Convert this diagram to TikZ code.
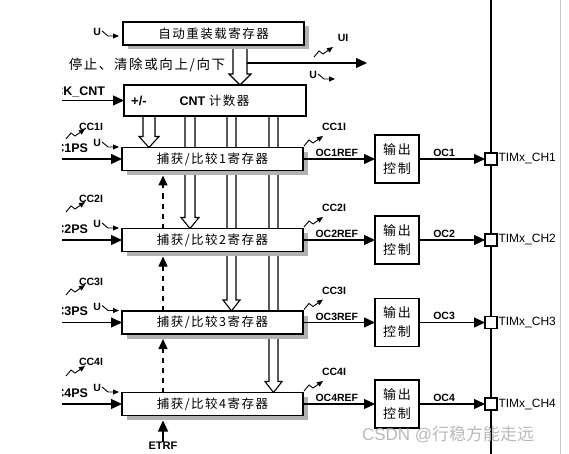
\documentclass[tikz,border=0pt]{standalone}
\usepackage{fontspec}
\setmainfont{Liberation Sans}
\newfontfamily\cjk[LetterSpace=12]{Noto Sans CJK SC}
\newfontfamily\cjkw{Noto Sans CJK SC}
\usetikzlibrary{arrows.meta}
\newcommand\hollowdn[4]{%
  \draw[line width=1.1pt,fill=white,line join=miter] (#1,#3) -- (#1,#4-11) -- (#1-4,#4-11) -- ({(#1+#2)/2},#4) -- (#2+4,#4-11) -- (#2,#4-11) -- (#2,#3);}
\begin{document}
\begin{tikzpicture}[x=1pt,y=-1pt,
  every node/.style={inner sep=0pt,outer sep=0pt},
  shadowc/.style={fill=gray!60},
  reg/.style={draw,line width=1.4pt,fill=white,minimum width=181pt,minimum height=23pt,font=\cjk\fontsize{12.5}{13}\selectfont},
  cntbox/.style={draw,line width=1.4pt,fill=white,minimum width=182pt,minimum height=31pt},
  outc/.style={draw,line width=1.4pt,fill=white,minimum width=44pt,minimum height=48pt,align=center,font=\cjk\fontsize{13}{19}\selectfont},
  pinbox/.style={draw,line width=1.1pt,fill=white,minimum size=12pt},
  lb/.style={font=\bfseries\fontsize{10.5}{11}\selectfont},
  lbig/.style={font=\bfseries\fontsize{12.5}{13}\selectfont},
  chlab/.style={font=\fontsize{12}{12}\selectfont,anchor=west},
  arr/.style={line width=1.2pt,-{Triangle[length=11pt,width=10pt]}},
  sarr/.style={line width=0.9pt,-{Triangle[length=6pt,width=5pt]}},
  darr/.style={line width=1.3pt,dash pattern=on 5pt off 5pt,-{Triangle[length=10pt,width=9pt]}},
  zz/.pic={\draw[sarr] (0,0) -- (5,-6) -- (9,-3) -- (19,-10);},
  uu/.pic={\node[lb,anchor=east] at (0,0) {U}; \draw[sarr] (1,-1) -- (7,4) -- (18,4);}
]
\useasboundingbox (0,0) rectangle (569,454);
% right border lines
\draw[gray!45,line width=0.8pt] (560,0) -- (560,454);
\coordinate (rtop) at (491,0);
\coordinate (rbot) at (491,454);
\draw[line width=2pt] (rtop) -- (rbot);

% buses (behind boxes)
\hollowdn{233}{247}{44}{85}
\hollowdn{143}{155}{112}{147.5}
\hollowdn{185}{195}{112}{228.5}
\hollowdn{227}{236}{112}{311}
\hollowdn{269}{278}{112}{392.5}

% reload register
\fill[shadowc] (127.5,26.5) rectangle (308.5,49.5);
\node[reg] (reload) at (213.5,33.5) {自动重装载寄存器};
\pic at (101,32) {uu};
\node[font=\cjk\fontsize{13.5}{14}\selectfont] at (147,65) {停止、清除或向上/向下};
\coordinate (tapA) at (247,63);
\coordinate (ctlend) at (367,63);
\draw[arr] (tapA) -- (ctlend);
\pic at (314,57) {zz};
\node[lb] at (343,38) {UI};
\pic at (317,75) {uu};

% counter
\node[cntbox] (cnt) at (215,100.5) {};
\node[font=\bfseries\fontsize{13}{13}\selectfont] at (139,101) {+/-};
\node at (214.5,100.5) {\bfseries\fontsize{12.5}{13}\selectfont CNT \cjk\mdseries 计数器};
\coordinate (ckin) at (62,100.5);
\draw[arr] (ckin) -- (cnt.west);

% rows
\foreach \i/\r/\a/\b in {1/159/139/127,2/240/212/199,3/322.5/295/282,4/404/376/362}{
  \fill[shadowc] (126.5,\r-7) rectangle (307.5,\r+16);
  \node[reg] (cc\i) at (212.5,\r) {捕获/比较\i 寄存器};
  \node[outc] (out\i) at (397,\r) {输出\\控制};
  \node[pinbox] (pin\i) at (491,\r) {};
  \node[chlab] at ([xshift=1.5pt]pin\i.east) {TIMx\_CH\i};
  \draw[arr] (cc\i.east) -- (out\i.west) node[pos=0.47,above=2pt,lb] {OC\i REF};
  \draw[arr] (out\i.east) -- (pin\i.west) node[pos=0.38,above=2.5pt,lb] {OC\i};
  \coordinate (in\i) at (62,\r);
  \draw[arr] (in\i) -- (cc\i.west);
  \pic at (101,\r-16) {uu};
  \pic at (66,\a) {zz};
  \node[lb] at (91,\b) {CC\i I};
  \pic at (304,\r-13) {zz};
  \node[lb] at (334,\r-32) {CC\i I};
}

% clipped left labels
\begin{scope}
\clip (62,0) rectangle (569,454);
\node[lbig,anchor=east] at (105,92) {CK\_CNT};
\foreach \i/\r in {1/159,2/240,3/322.5,4/404}{
  \node[lbig,anchor=east] at (88,\r-11) {IC\i PS};
}
\end{scope}

% dashed capture chain and ETRF
\coordinate (dx) at (163,0);
\foreach \k in {1,2,3,4}{
  \path (dx |- cc\k.south) ++(0,5) coordinate (tip\k);
}
\foreach \j/\k in {2/1,3/2,4/3}{
  \draw[darr] (dx |- cc\j.north) -- (tip\k);
}
\node[lb,font=\bfseries\fontsize{11}{11}\selectfont] (etrf) at (163,446) {ETRF};
\draw[arr] (etrf.north) -- (tip4);

% watermark
\node[anchor=west,text=gray!55,font=\fontsize{17}{17}\selectfont] at (362,434) {CSDN @{\cjkw 行稳方能走远}};
\end{tikzpicture}
\end{document}
